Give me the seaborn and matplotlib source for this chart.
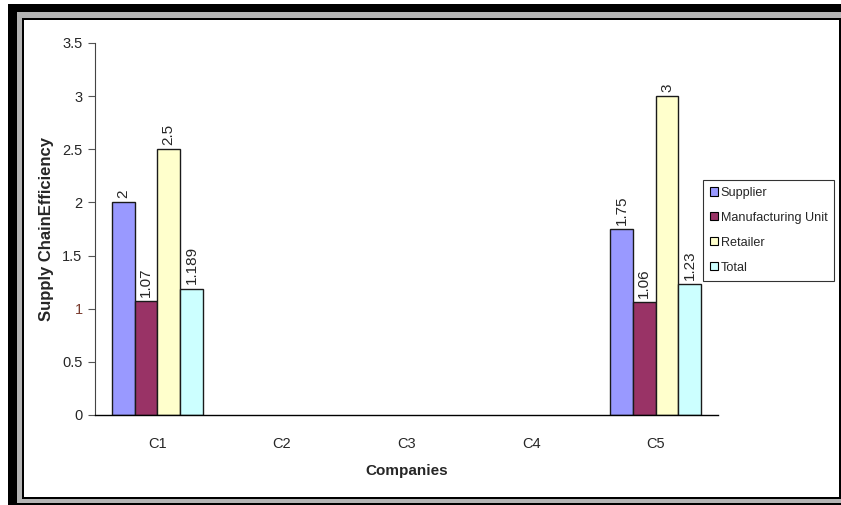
import matplotlib
matplotlib.use("Agg")
import matplotlib.pyplot as plt
from matplotlib.patches import Rectangle
import numpy as np
import pandas as pd
import seaborn as sns

# Supply chain efficiency per company and stage
companies = ["C1", "C2", "C3", "C4", "C5"]
stages = ["Supplier", "Manufacturing Unit", "Retailer", "Total"]
supplier = [2.0, np.nan, np.nan, np.nan, 1.75]
manufacturing = [1.07, np.nan, np.nan, np.nan, 1.06]
retailer = [2.5, np.nan, np.nan, np.nan, 3.0]
total = [1.189, np.nan, np.nan, np.nan, 1.23]
y_ticks = [0, 0.5, 1, 1.5, 2, 2.5, 3, 3.5]
colors = ["#9999FF", "#993366", "#FFFFCC", "#CCFFFF"]

df = pd.DataFrame({
    "Company": companies * 4,
    "Stage": sum([[s] * len(companies) for s in stages], []),
    "Efficiency": supplier + manufacturing + retailer + total,
})

sns.set_style("white")
plt.rcParams["font.family"] = ["Liberation Sans", "DejaVu Sans"]

W, H = 841, 505
fig = plt.figure(figsize=(W / 100, H / 100), dpi=100)


def px(x0, y0, x1, y1):
    """Rectangle in pixel coordinates (top-left origin) -> figure fractions."""
    return (x0 / W, 1 - y1 / H), (x1 - x0) / W, (y1 - y0) / H


def add_rect(x0, y0, x1, y1, color, z=0):
    xy, w, h = px(x0, y0, x1, y1)
    fig.patches.append(Rectangle(xy, w, h, transform=fig.transFigure,
                                 facecolor=color, edgecolor="none", zorder=z))


# picture frame: heavy outer band, grey bevel, thin inner line
add_rect(0, 0, W, H, "white", z=-10)
add_rect(8, 4, W, H, "#000000", z=-9)
add_rect(17, 12, W, 503, "#b4b4b4", z=-8)
add_rect(22, 18, W, 499, "#000000", z=-7)
add_rect(24, 20, 839, 497, "white", z=-6)

ax = fig.add_axes([95 / W, 1 - 415 / H, (718 - 95) / W, (415 - 43) / H])
ax.set_facecolor("none")

sns.barplot(data=df, x="Company", y="Efficiency", hue="Stage",
            order=companies, hue_order=stages, palette=colors,
            saturation=1, width=0.73, edgecolor="#1a1a1a", linewidth=1.0,
            legend=False, ax=ax)

# value labels, rotated, sitting on top of each bar
for container in ax.containers:
    for bar in container:
        if bar is None:
            continue
        h = bar.get_height()
        if not np.isfinite(h):
            continue
        ax.annotate(f"{h:g}", (bar.get_x() + bar.get_width() / 2, h),
                    xytext=(0, 3), textcoords="offset points",
                    rotation=90, ha="center", va="bottom", fontsize=11,
                    bbox=dict(facecolor="white", edgecolor="none", pad=0.5))

ax.set_ylim(0, 3.5)
ax.set_xlim(-0.5, len(companies) - 0.5)
ax.set_yticks(y_ticks)
ax.set_yticklabels([f"{t:g}" for t in y_ticks], fontsize=10.5)
for lbl in ax.get_yticklabels():
    if lbl.get_text() == "1":
        lbl.set_color("#7a3b2e")
ax.set_xticks(range(len(companies)))
ax.set_xticklabels(companies, fontsize=10.5)
ax.set_xticks(np.arange(-0.5, len(companies)), minor=True)
ax.tick_params(axis="x", which="major", length=0, pad=16)
ax.tick_params(axis="x", which="minor", length=5, width=0.8,
               color="#555555", direction="out")
ax.tick_params(axis="y", length=5, width=0.8, color="#555555",
               direction="out", pad=4, left=True)

for side in ["top", "right"]:
    ax.spines[side].set_visible(False)
ax.spines["left"].set_color("#444444")
ax.spines["bottom"].set_color("black")
ax.spines["left"].set_linewidth(0.8)
ax.spines["bottom"].set_linewidth(1.0)

ax.set_xlabel("Companies", fontsize=11, fontweight="bold", labelpad=9)
ax.set_ylabel("Supply ChainEfficiency", fontsize=12, fontweight="bold",
              labelpad=6)

handles = [Rectangle((0, 0), 1, 1, facecolor=c, edgecolor="black",
                     linewidth=0.8) for c in colors]
leg = fig.legend(handles, stages, loc="upper left",
                 bbox_to_anchor=(703 / W, 1 - 180 / H),
                 frameon=True, fancybox=False, fontsize=9.1,
                 handlelength=0.6, handleheight=0.6, handletextpad=0.25,
                 labelspacing=1.02, borderpad=0.55, borderaxespad=0)
leg.get_frame().set_edgecolor("black")
leg.get_frame().set_linewidth(0.8)

fig.savefig("out.png", dpi=100)
